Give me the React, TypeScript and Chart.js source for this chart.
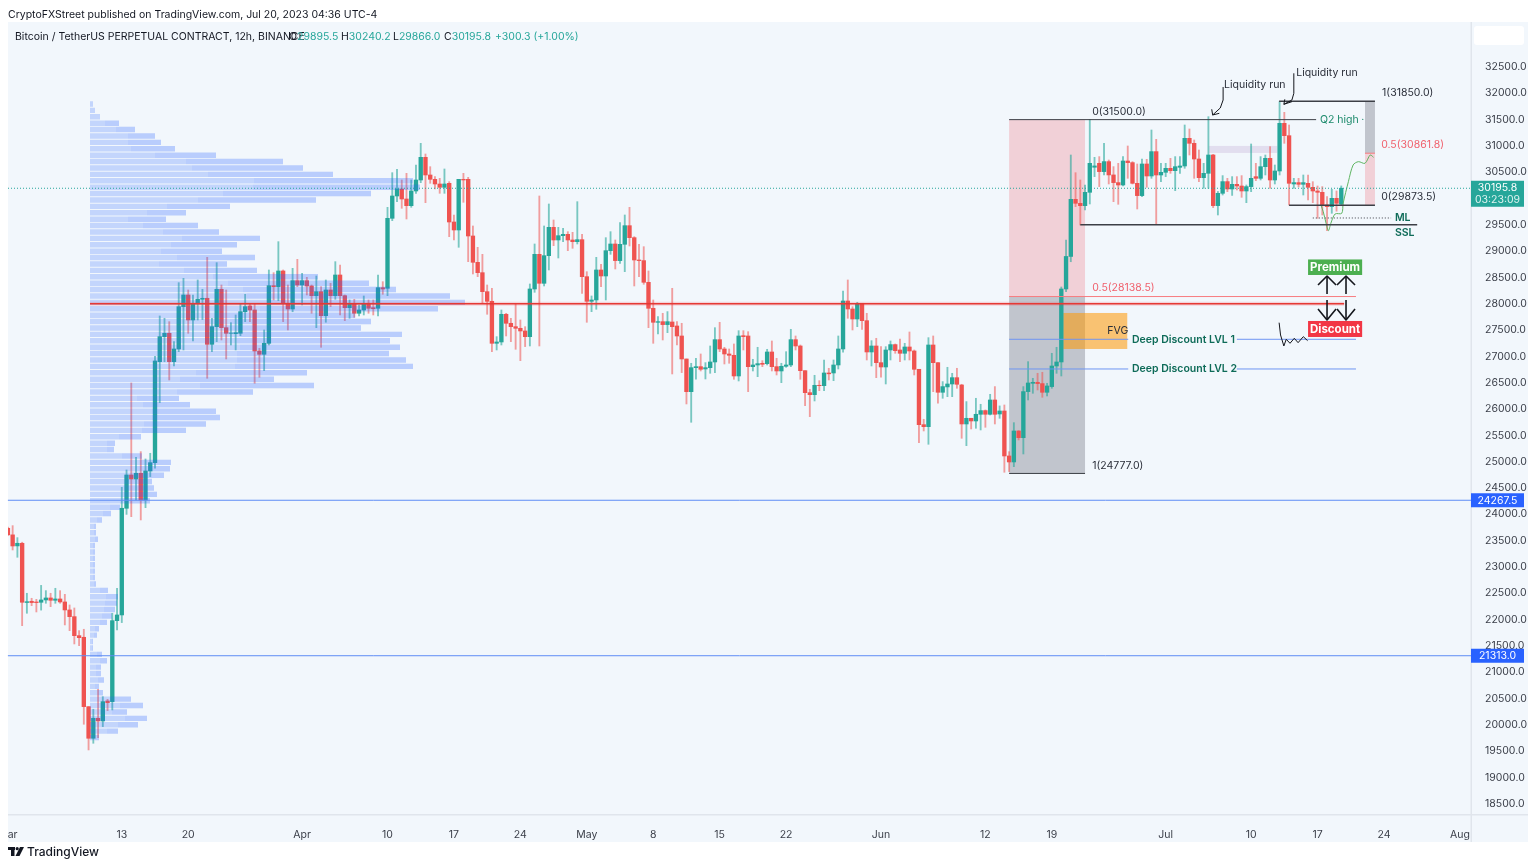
import { useEffect, useRef } from 'react'
import Chart from 'chart.js/auto'

// one row per 12h candle: open, high, low, close
const MARCH = [
  [23735, 23760, 23600, 23610], [23610, 23785, 23323, 23399], [23400, 23557, 23184, 23450], [23450, 23470, 21885, 22329],
  [22325, 22500, 22120, 22340], [22348, 22405, 22265, 22323], [22335, 22385, 22145, 22323], [22329, 22650, 22180, 22373],
  [22373, 22550, 22310, 22411], [22411, 22500, 22246, 22367], [22367, 22595, 22310, 22392], [22392, 22550, 22310, 22335],
  [22335, 22480, 21898, 22183], [22183, 22278, 21790, 22056], [22056, 22221, 21537, 21695], [21695, 21790, 21505, 21657],
  [21664, 21816, 20011, 20346], [20346, 20346, 19523, 19745], [19745, 20296, 19650, 20125], [20125, 20676, 19757, 20074],
  [20074, 20536, 19966, 20441], [20454, 20485, 20270, 20422], [20441, 22120, 20283, 21980], [21980, 22595, 21803, 22088],
  [22088, 24514, 21943, 24115], [24115, 24843, 23999, 24748], [24748, 26496, 23956, 24672], [24672, 25084, 24273, 24780],
  [24780, 25191, 23893, 24273], [24273, 25052, 24127, 24824], [24824, 25160, 24717, 24982], [24982, 27000, 24875, 26914],
  [26901, 27769, 26122, 27376], [27376, 27725, 26900, 27440], [27440, 27661, 26553, 26901], [26901, 27281, 26819, 27142],
  [27142, 28402, 27091, 27946], [27946, 28485, 27123, 28168], [28168, 28263, 27440, 27693], [27693, 28168, 27294, 28010],
  [28010, 28453, 27693, 28086], [28086, 28276, 27700, 28105], [28105, 28884, 26585, 27231], [27231, 27725, 27091, 27566],
  [27566, 28782, 27281, 28276], [28276, 28358, 27313, 27547], [27547, 28263, 26952, 27440], [27440, 27642, 27218, 27445],
  [27433, 27788, 27123, 27452], [27440, 27997, 27395, 27851], [27851, 28181, 27661, 27946], [27959, 27997, 27661, 27883],
  [27883, 27997, 26490, 27104], [27104, 27155, 26604, 27041], [27041, 27503, 26730, 27250], [27250, 28643, 27218, 28345],
  [28345, 28592, 28073, 28326], [28326, 29181, 28060, 28624], [28624, 28643, 27661, 28010], [28010, 28358, 27503, 27902],
  [27902, 28675, 27850, 28440], [28440, 28846, 28326, 28358],
]
const APRIL = [
  [28358, 28580, 27978, 28440], [28440, 28504, 28168, 28339], [28339, 28358, 27820, 28155], [28155, 28529, 27547, 28231],
  [28231, 28326, 27174, 27775], [27775, 28453, 27650, 28263], [28263, 28390, 27946, 28155], [28155, 28801, 28086, 28548],
  [28548, 28738, 27788, 28155], [28155, 28168, 27680, 27927], [27927, 28073, 27725, 27997], [27997, 28086, 27744, 27820],
  [27820, 27978, 27769, 27883], [27883, 28149, 27788, 27997], [28010, 28073, 27820, 27915], [27927, 28073, 27788, 27908],
  [27915, 28548, 27769, 28307], [28307, 28421, 28181, 28282], [28295, 29834, 28155, 29625], [29625, 30492, 29580, 30049],
  [30049, 30556, 29941, 30182], [30182, 30353, 29815, 29992], [29992, 30480, 29612, 29865], [29865, 30353, 29834, 30144],
  [30144, 30638, 30100, 30353], [30353, 31050, 30302, 30784], [30784, 30847, 29922, 30448], [30448, 30606, 30290, 30366],
  [30366, 30416, 30182, 30277], [30277, 30385, 30100, 30214], [30214, 30562, 30100, 30277], [30290, 30321, 29276, 29555],
  [29555, 29688, 29213, 29403], [29403, 30366, 29074, 30366], [30366, 30480, 29929, 30353], [30366, 30404, 28801, 29289],
  [29289, 29479, 28567, 28789], [28789, 29074, 28516, 28592], [28592, 28941, 28010, 28231], [28231, 28358, 27801, 28048],
  [28048, 28295, 27091, 27250], [27250, 27376, 27123, 27275], [27275, 27883, 27218, 27801], [27801, 27820, 27389, 27630],
  [27630, 27725, 27281, 27566], [27566, 28010, 27136, 27535], [27535, 27693, 26920, 27484], [27484, 27566, 27187, 27376],
  [27376, 28377, 27199, 28282], [28282, 29137, 28219, 28941], [28941, 30049, 27199, 28390], [28390, 29479, 28339, 28915],
  [28915, 29897, 28643, 29454], [29454, 29593, 29105, 29213], [29213, 29454, 28871, 29295], [29295, 29435, 29181, 29320],
  [29320, 29371, 29010, 29213], [29213, 29359, 29055, 29181], [29181, 29941, 29137, 29219], [29219, 29321, 28200, 28516],
]
const MAY = [
  [28516, 28611, 27649, 28048], [28048, 28149, 27851, 28073], [28073, 28884, 27896, 28643], [28643, 28750, 28326, 28529],
  [28529, 29257, 28073, 29010], [29010, 29371, 28941, 29137], [29137, 29213, 28662, 28821], [28821, 29543, 28770, 29131],
  [29131, 29688, 28611, 29485], [29485, 29834, 29099, 29257], [29257, 29276, 28339, 28833], [28833, 29131, 28516, 28821],
  [28821, 29086, 28371, 28409], [28409, 28624, 27547, 27915], [27915, 28073, 27250, 27649], [27649, 27757, 27427, 27661],
  [27661, 27820, 27313, 27605], [27605, 27852, 27452, 27661], [27655, 28295, 26667, 27566], [27579, 27661, 27218, 27389],
  [27389, 27630, 26693, 26952], [26952, 26952, 26097, 26331], [26331, 26870, 25749, 26787], [26787, 26965, 26566, 26806],
  [26806, 27047, 26724, 26756], [26762, 26882, 26572, 26787], [26787, 27199, 26680, 26895], [26895, 27547, 26692, 27319],
  [27319, 27649, 27091, 27142], [27142, 27174, 26857, 27047], [27047, 27142, 26870, 27022], [27022, 27237, 26566, 26629],
  [26629, 27490, 26534, 27389], [27395, 27490, 27123, 27376], [27389, 27471, 26331, 26806], [26806, 26946, 26724, 26838],
  [26838, 27174, 26616, 26863], [26870, 26920, 26806, 26851], [26863, 27136, 26838, 27085], [27085, 27294, 26724, 26806],
  [26806, 26965, 26648, 26724], [26724, 26870, 26502, 26813], [26813, 27091, 26794, 26838], [26838, 27516, 26806, 27319],
  [27319, 27389, 27123, 27199], [27199, 27218, 26566, 26730], [26730, 26730, 26065, 26312], [26312, 26376, 25856, 26274],
  [26274, 26642, 26154, 26452], [26452, 26540, 26350, 26445], [26445, 26933, 26350, 26686], [26686, 26775, 26553, 26670],
  [26686, 26933, 26540, 26838], [26838, 27389, 26762, 27142], [27142, 28244, 27079, 28054], [28054, 28453, 27725, 27902],
  [27902, 27946, 27503, 27712], [27712, 28029, 27566, 27997], [28010, 28010, 27516, 27680], [27680, 27820, 26933, 27085],
  [27085, 27300, 26819, 27199], [27199, 27345, 26597, 26882],
]
const JUNE = [
  [26882, 27186, 26604, 26800], [26800, 27186, 26477, 27123], [27123, 27294, 26933, 27225], [27225, 27237, 27060, 27110],
  [27123, 27332, 26901, 27060], [27060, 27250, 26933, 27180], [27180, 27465, 26933, 27104], [27104, 27123, 26648, 26756],
  [26756, 26756, 25362, 25704], [25704, 25806, 25584, 25666], [25666, 27357, 25331, 27218], [27218, 27389, 26331, 26882],
  [26882, 26882, 26110, 26319], [26319, 26522, 26205, 26427], [26421, 26794, 26236, 26477], [26477, 26680, 26236, 26597],
  [26597, 26775, 26395, 26471], [26458, 26471, 25445, 25717], [25717, 26142, 25305, 25825], [25825, 25825, 25622, 25774],
  [25774, 26205, 25635, 25901], [25901, 26091, 25603, 25971], [25971, 25984, 25654, 25901], [25901, 26281, 25888, 26173],
  [26173, 26427, 25717, 25901], [25907, 26060, 25825, 25964], [25964, 26078, 24799, 25109], [25109, 25191, 24812, 24995],
  [24995, 25742, 24906, 25584], [25584, 25590, 25413, 25457], [25457, 26427, 25147, 26332], [26332, 26901, 26173, 26496],
  [26490, 26585, 26300, 26509], [26509, 26680, 26363, 26484], [26484, 26699, 26224, 26319], [26319, 26490, 26249, 26439],
  [26427, 27060, 26395, 26819], [26819, 27174, 26680, 26895], [26895, 28320, 26629, 28282], [28282, 29213, 28230, 28900],
  [28900, 30828, 28800, 29986], [29986, 30492, 29846, 29910], [29910, 30353, 29498, 29865], [29865, 30258, 29783, 30119],
  [30119, 31506, 29897, 30670], [30595, 30784, 30417, 30620], [30670, 30797, 30227, 30512], [30512, 31050, 30449, 30702],
  [30702, 30733, 30277, 30449], [30449, 30607, 29941, 30303], [30303, 30670, 29891, 30258], [30258, 30797, 30239, 30714],
  [30714, 30999, 30385, 30683], [30683, 30702, 30277, 30290], [30290, 30657, 29802, 30056], [30056, 30752, 30036, 30657],
  [30657, 30746, 30214, 30429], [30429, 31303, 30385, 30892], [30892, 31126, 29511, 30448], [30448, 30670, 30321, 30499],
]
const JULY = [
  [30499, 30670, 30417, 30575], [30575, 30765, 30480, 30530], [30530, 30797, 30150, 30606], [30594, 30797, 30480, 30619],
  [30619, 31398, 30575, 31145], [31145, 31322, 30828, 31050], [31050, 31113, 30385, 30752], [30752, 30923, 30321, 30397],
  [30397, 30670, 30195, 30480], [30480, 31556, 30195, 30828], [30828, 30841, 29828, 29866], [29866, 30135, 29688, 30100],
  [30100, 30436, 30068, 30322], [30322, 30385, 30131, 30182], [30182, 30417, 30060, 30271], [30271, 30417, 30163, 30239],
  [30239, 30436, 30024, 30144], [30144, 30258, 29922, 30227], [30227, 31037, 30131, 30385], [30416, 30670, 30340, 30385],
  [30385, 30797, 30353, 30606], [30606, 30828, 30448, 30765], [30765, 30987, 30195, 30353], [30353, 30638, 30277, 30524],
  [30524, 31841, 30448, 31430], [31430, 31639, 31050, 31195], [31195, 31398, 29878, 30290], [30277, 30385, 30195, 30303],
  [30303, 30385, 30220, 30271], [30271, 30448, 30068, 30303], [30290, 30448, 29973, 30214], [30214, 30321, 29922, 30144],
  [30144, 30239, 29625, 30119], [30119, 30227, 29688, 29866], [29878, 30037, 29390, 29847], [29847, 30176, 29720, 30005],
  [30005, 30144, 29760, 29910], [29895.5, 30240.2, 29866, 30195.8],
]
const CANDLES = [...MARCH, ...APRIL, ...MAY, ...JUNE, ...JULY]

// volume profile, top bin to bottom bin
const VP_PRICES = [
  31797, 31675, 31554, 31432, 31311, 31189, 31067, 30946, 30824, 30703, 30581, 30459, 30338, 30216, 30095, 29973, 29851, 29730, 29608, 29487,
  29365, 29243, 29122, 29000, 28879, 28757, 28635, 28514, 28392, 28271, 28149, 28027, 27906, 27784, 27663, 27541, 27419, 27298, 27176, 27055,
  26933, 26811, 26690, 26568, 26447, 26325, 26203, 26082, 25960, 25839, 25717, 25595, 25474, 25352, 25231, 25109, 24987, 24866, 24744, 24623,
  24501, 24379, 24258, 24136, 24015, 23893, 23771, 23650, 23528, 23407, 23285, 23163, 23042, 22920, 22799, 22677, 22555, 22434, 22312, 22191,
  22069, 21947, 21826, 21704, 21583, 21461, 21339, 21218, 21096, 20975, 20853, 20731, 20610, 20488, 20367, 20245, 20123, 20002, 19880, 19759,
]
const VP_TOTAL = [
  3, 5, 10, 29, 45, 65, 71, 85, 126, 193, 213, 243, 323, 330, 281, 226, 140, 96, 76, 108,
  129, 170, 147, 132, 165, 137, 167, 228, 279, 306, 360, 375, 348, 265, 281, 271, 312, 300, 310, 299,
  316, 323, 217, 184, 224, 163, 89, 100, 126, 130, 116, 96, 51, 25, 24, 52, 81, 80, 74, 62,
  64, 67, 60, 30, 21, 12, 6, 6, 8, 5, 5, 5, 5, 5, 5, 6, 18, 28, 27, 25,
  22, 17, 9, 7, 3, 3, 12, 17, 11, 11, 14, 9, 13, 41, 53, 37, 57, 48, 28, 9,
]
const VP_UP = [
  3, 5, 10, 15, 26, 38, 38, 41, 65, 96, 102, 118, 164, 163, 133, 108, 77, 57, 38, 53,
  73, 92, 81, 71, 87, 69, 94, 123, 138, 153, 157, 180, 170, 130, 140, 135, 150, 147, 150, 147,
  147, 145, 106, 90, 110, 87, 47, 53, 62, 62, 54, 52, 29, 17, 17, 32, 50, 45, 40, 38,
  38, 40, 40, 20, 13, 7, 4, 4, 5, 3, 3, 3, 3, 3, 3, 4, 10, 16, 15, 14,
  12, 10, 5, 4, 2, 2, 7, 10, 6, 6, 8, 5, 8, 24, 30, 22, 35, 28, 17, 5,
]

// hand drawn projection (candle index, price)
const PATH_X = [276.7, 277.2, 277.8, 278.3, 278.8, 279.7, 281.1, 281.4, 282.5, 283.5, 284.6, 286, 287.1, 287.8]
const PATH_Y = [29878, 29751, 29530, 29390, 29530, 29707, 29720, 29910, 30321, 30638, 30701, 30670, 30828, 30784]

const Y_TICKS = [18500, 19000, 19500, 20000, 20500, 21000, 21500, 22000, 22500, 23000, 23500, 24000, 24500, 25000, 25500, 26000, 26500, 27000, 27500, 28000, 28500, 29000, 29500, 30500, 31000, 31500, 32000, 32500]
const X_TICK_POS = [0, 24, 38, 62, 80, 94, 108, 122, 136, 150, 164, 184, 206, 220, 244, 262, 276, 290, 306]
const X_TICK_TEXT = ['Mar', '13', '20', 'Apr', '10', '17', '24', 'May', '8', '15', '22', 'Jun', '12', '19', 'Jul', '10', '17', '24', 'Aug']

const UP = '#26a69a'
const DOWN = '#ef5350'
const PANEL = '#f2f7fc'
const GREEN_TEXT = '#0e6b58'
const FONT = 'Inter, "Liberation Sans", sans-serif'

// x in candles, y in price
const ZONES = [
  { x0: 211, x1: 227, p0: 31500, p1: 28138.5, color: 'rgba(242,54,69,0.2)' },
  { x0: 211, x1: 227, p0: 28138.5, p1: 24777, color: 'rgba(120,123,134,0.4)' },
  { x0: 222.4, x1: 235.9, p0: 27826, p1: 27142, color: 'rgba(255,152,0,0.55)' },
  { x0: 253.1, x1: 267.5, p0: 31000, p1: 30867, color: '#e2deef' },
  { x0: 286, x1: 288.1, p0: 31850, p1: 30861.8, color: 'rgba(120,123,134,0.4)' },
  { x0: 286, x1: 288.1, p0: 30861.8, p1: 29873.5, color: 'rgba(242,54,69,0.2)' },
]
const LEVELS = [
  { x0: 211, x1: 275.7, p: 31500, color: '#3c3f46', w: 1 },
  { x0: 211, x1: 284.1, p: 28138.5, color: '#f77c80', w: 1 },
  { x0: 211, x1: 227, p: 24777, color: '#3c3f46', w: 1 },
  { x0: 211, x1: 236.1, p: 27326, color: '#6f95f2', w: 1 },
  { x0: 259, x1: 284.1, p: 27326, color: '#6f95f2', w: 1 },
  { x0: 211, x1: 236.1, p: 26762, color: '#6f95f2', w: 1 },
  { x0: 259, x1: 284.1, p: 26762, color: '#6f95f2', w: 1 },
  { x0: 17.3, x1: 281.6, p: 28000, color: 'rgba(242,54,69,0.18)', w: 4 },
  { x0: 17.3, x1: 281.6, p: 28000, color: '#e53935', w: 1.5 },
  { x0: 267.9, x1: 288.1, p: 31850, color: '#3c3f46', w: 1.5 },
  { x0: 270, x1: 288.1, p: 29873.5, color: '#3c3f46', w: 1.5 },
  { x0: 286, x1: 288.1, p: 30861.8, color: '#f77c80', w: 1 },
  { x0: 226, x1: 297, p: 29504, color: '#3c3f46', w: 1.5 },
  { x0: 0, x1: 308.4, p: 24267.5, color: '#5f8df5', w: 1 },
  { x0: 0, x1: 308.4, p: 21313, color: '#5f8df5', w: 1 },
]
const LABELS = [
  { text: '0(31500.0)', x: 228.5, p: 31645, color: '#2a2e39' },
  { text: '0.5(28138.5)', x: 228.5, p: 28301, color: '#f0616d' },
  { text: '1(24777.0)', x: 228.5, p: 24919, color: '#2a2e39' },
  { text: 'FVG', x: 231.7, p: 27484, color: '#2a2e39' },
  { text: 'Deep Discount LVL 1', x: 236.9, p: 27322, color: GREEN_TEXT, bold: true },
  { text: 'Deep Discount LVL 2', x: 236.9, p: 26762, color: GREEN_TEXT, bold: true },
  { text: 'Q2 high', x: 276.5, p: 31500, color: '#1b8a6b' },
  { text: '·', x: 285.2, p: 31500, color: '#1b8a6b' },
  { text: 'Liquidity run', x: 256.3, p: 32158, color: '#2a2e39' },
  { text: 'Liquidity run', x: 271.5, p: 32386, color: '#2a2e39' },
  { text: '1(31850.0)', x: 289.6, p: 32006, color: '#2a2e39' },
  { text: '0.5(30861.8)', x: 289.4, p: 31018, color: '#f0616d' },
  { text: '0(29873.5)', x: 289.4, p: 30030, color: '#2a2e39' },
  { text: 'ML', x: 292.3, p: 29631, color: GREEN_TEXT, bold: true },
  { text: 'SSL', x: 292.3, p: 29346, color: GREEN_TEXT, bold: true },
]
const STROKES = [
  // liquidity run arrows
  { w: 1, pts: [[256.1, 32120], [256.1, 31873], [255.5, 31721], [253.9, 31588]] },
  { w: 1, pts: [[255.3, 31620], [253.9, 31588], [253.7, 31696]] },
  { w: 1, pts: [[271, 32380], [271, 32000], [270.6, 31873], [268.9, 31791]] },
  { w: 1, pts: [[270.6, 31841], [268.9, 31791], [269.1, 31886]] },
  // premium / discount arrows
  { w: 1.6, pts: [[278, 28187], [278, 28529]] },
  { w: 1.6, pts: [[276.1, 28358], [278, 28529], [279.9, 28358]] },
  { w: 1.6, pts: [[282, 28187], [282, 28529]] },
  { w: 1.6, pts: [[280.1, 28358], [282, 28529], [283.9, 28358]] },
  { w: 1.6, pts: [[278, 28073], [278, 27693]] },
  { w: 1.6, pts: [[276.1, 27902], [278, 27693], [279.9, 27902]] },
  { w: 1.6, pts: [[282, 28073], [282, 27693]] },
  { w: 1.6, pts: [[280.1, 27902], [282, 27693], [283.9, 27902]] },
  // scribble under discount
  { w: 1, pts: [[267.9, 27642], [268.2, 27408], [268.9, 27199], [269.4, 27326], [270.2, 27250], [271.1, 27345], [271.9, 27262], [273, 27376], [273.9, 27300]] },
]
const BADGES = [
  { text: 'Premium', p0: 28843, p1: 28548, color: '#4caf50' },
  { text: 'Discount', p0: 27674, p1: 27370, color: '#f23645' },
]
const PRICE_TAGS = [
  { text: '24267.5', p: 24267.5 },
  { text: '21313.0', p: 21313 },
]

const vpPoints = (from: number[], to: number[]) =>
  VP_PRICES.flatMap((p, i) => [{ x: from[i], y: p }, { x: to[i], y: p }, { x: NaN, y: NaN }])

const overlay = {
  id: 'overlay',
  beforeDraw(chart: Chart) {
    const { ctx } = chart
    ctx.save()
    ctx.fillStyle = '#ffffff'
    ctx.fillRect(0, 0, 1536, 866)
    ctx.fillStyle = PANEL
    ctx.fillRect(8, 22, 1520, 820)
    ctx.fillStyle = '#e0e5ec'
    ctx.fillRect(1470.5, 22, 1.5, 820)
    ctx.fillRect(8, 814, 1520, 1.5)
    ctx.restore()
  },
  beforeDatasetsDraw(chart: Chart) {
    const { ctx, scales } = chart
    const X = (v: number) => scales.x.getPixelForValue(v)
    const Y = (v: number) => scales.y.getPixelForValue(v)
    ctx.save()
    for (const z of ZONES) {
      ctx.fillStyle = z.color
      ctx.fillRect(X(z.x0), Y(z.p0), X(z.x1) - X(z.x0), Y(z.p1) - Y(z.p0))
    }
    ctx.restore()
  },
  afterDatasetsDraw(chart: Chart) {
    const { ctx, scales, chartArea } = chart
    const X = (v: number) => scales.x.getPixelForValue(v)
    const Y = (v: number) => scales.y.getPixelForValue(v)
    ctx.save()

    // current price
    ctx.strokeStyle = UP
    ctx.lineWidth = 1
    ctx.setLineDash([1, 2])
    ctx.beginPath()
    ctx.moveTo(chartArea.left, Y(30195.8))
    ctx.lineTo(chartArea.right, Y(30195.8))
    ctx.stroke()
    ctx.beginPath()
    ctx.strokeStyle = '#3c3f46'
    ctx.moveTo(X(275), Y(29631))
    ctx.lineTo(X(291.5), Y(29631))
    ctx.stroke()
    ctx.setLineDash([])

    for (const l of LEVELS) {
      ctx.strokeStyle = l.color
      ctx.lineWidth = l.w
      ctx.beginPath()
      ctx.moveTo(X(l.x0), Y(l.p))
      ctx.lineTo(X(l.x1), Y(l.p))
      ctx.stroke()
    }

    ctx.strokeStyle = '#14161c'
    ctx.lineJoin = 'round'
    for (const s of STROKES) {
      ctx.lineWidth = s.w
      ctx.beginPath()
      s.pts.forEach(([a, b], i) => (i ? ctx.lineTo(X(a), Y(b)) : ctx.moveTo(X(a), Y(b))))
      ctx.stroke()
    }

    ctx.textBaseline = 'middle'
    ctx.textAlign = 'left'
    for (const t of LABELS) {
      ctx.font = `${t.bold ? 600 : 400} 10.5px ${FONT}`
      ctx.fillStyle = t.color
      ctx.fillText(t.text, X(t.x), Y(t.p))
    }

    ctx.textAlign = 'center'
    ctx.font = `700 11.5px ${FONT}`
    for (const b of BADGES) {
      ctx.fillStyle = b.color
      ctx.fillRect(X(274), Y(b.p0), X(285.4) - X(274), Y(b.p1) - Y(b.p0))
      ctx.fillStyle = '#ffffff'
      ctx.fillText(b.text, (X(274) + X(285.4)) / 2, (Y(b.p0) + Y(b.p1)) / 2 + 0.5)
    }

    // right scale tags
    ctx.font = `400 10.5px ${FONT}`
    for (const t of PRICE_TAGS) {
      ctx.fillStyle = '#2962ff'
      ctx.fillRect(1471, Y(t.p) - 7, 53, 14)
      ctx.fillStyle = '#ffffff'
      ctx.fillText(t.text, 1497.5, Y(t.p) + 0.5)
    }
    ctx.fillStyle = UP
    ctx.fillRect(1471, Y(30195.8) - 7.5, 53, 26)
    ctx.fillStyle = '#ffffff'
    ctx.fillText('30195.8', 1497.5, Y(30195.8) - 0.5)
    ctx.fillStyle = '#dff3f0'
    ctx.fillText('03:23:09', 1497.5, Y(30195.8) + 12)

    // empty box in the corner of the scale
    ctx.fillStyle = '#ffffff'
    ctx.beginPath()
    ctx.roundRect(1474, 26, 50, 19, 3)
    ctx.fill()
    ctx.restore()
  },
  afterDraw(chart: Chart) {
    const { ctx } = chart
    // the first month label is cut by the panel edge
    ctx.save()
    ctx.fillStyle = '#ffffff'
    ctx.fillRect(0, 816, 8, 26)
    // logo
    ctx.fillStyle = '#131722'
    ctx.fillRect(8, 847, 7, 3)
    ctx.fillRect(11, 847, 3.5, 9)
    ctx.beginPath()
    ctx.arc(17.2, 848.7, 1.6, 0, Math.PI * 2)
    ctx.fill()
    ctx.beginPath()
    ctx.moveTo(20, 847)
    ctx.lineTo(24, 847)
    ctx.lineTo(19.5, 856)
    ctx.lineTo(15.5, 856)
    ctx.fill()
    ctx.restore()
  },
}

export default function App() {
  const canvasRef = useRef<HTMLCanvasElement>(null)

  useEffect(() => {
    const canvas = canvasRef.current
    if (!canvas) return
    const candleColor = CANDLES.map(([o, , , c]) => (c >= o ? UP : DOWN))
    const wickColor = CANDLES.map(([o, , , c]) => (c >= o ? 'rgba(38,166,154,0.6)' : 'rgba(239,83,80,0.55)'))
    const config = {
      type: 'bar',
      data: {
        datasets: [
          {
            type: 'line',
            data: PATH_X.map((x, i) => ({ x, y: PATH_Y[i] })),
            borderColor: '#5fb562',
            borderWidth: 1,
            tension: 0.3,
            pointRadius: 0,
            order: 0,
          },
          {
            type: 'line',
            xAxisID: 'xv',
            data: vpPoints(VP_TOTAL.map(() => 0), VP_UP),
            borderColor: 'rgba(41,98,255,0.23)',
            borderWidth: 5.4,
            borderCapStyle: 'butt',
            pointRadius: 0,
            spanGaps: false,
            order: 1,
          },
          {
            type: 'line',
            xAxisID: 'xv',
            data: vpPoints(VP_UP, VP_TOTAL),
            borderColor: 'rgba(41,98,255,0.28)',
            borderWidth: 5.4,
            borderCapStyle: 'butt',
            pointRadius: 0,
            spanGaps: false,
            order: 1,
          },
          {
            data: CANDLES.map(([o, , , c], i) => ({ x: i, y: [o, c] })),
            backgroundColor: candleColor,
            barThickness: 3.7,
            grouped: false,
            order: 2,
          },
          {
            data: CANDLES.map(([, h, l], i) => ({ x: i, y: [l, h] })),
            backgroundColor: wickColor,
            barThickness: 1.2,
            grouped: false,
            order: 3,
          },
        ],
      },
      options: {
        responsive: false,
        animation: false,
        devicePixelRatio: 1,
        layout: { padding: { left: 8, top: 22, right: 8, bottom: 24 } },
        plugins: { legend: { display: false }, tooltip: { enabled: false } },
        scales: {
          x: {
            type: 'linear',
            min: 0.02,
            max: 308.34,
            offset: false,
            grid: { display: false },
            border: { display: false },
            afterBuildTicks: (s: any) => {
              s.ticks = X_TICK_POS.map((value) => ({ value }))
            },
            afterFit: (s: any) => {
              s.height = 28
              s.paddingLeft = 0
              s.paddingRight = 0
            },
            ticks: {
              autoSkip: false,
              maxRotation: 0,
              padding: 7,
              color: '#3a3e48',
              font: { family: FONT, size: 10.5 },
              callback: (v: number) => X_TICK_TEXT[X_TICK_POS.indexOf(v)] ?? '',
            },
          },
          xv: { type: 'linear', display: false, min: -82, max: 1381, offset: false },
          y: {
            type: 'linear',
            position: 'right',
            min: 18306,
            max: 33355,
            grid: { display: false },
            border: { display: false },
            afterBuildTicks: (s: any) => {
              s.ticks = Y_TICKS.map((value) => ({ value }))
            },
            afterFit: (s: any) => {
              s.width = 57
              s.paddingTop = 0
              s.paddingBottom = 0
            },
            ticks: {
              padding: 6,
              color: '#3a3e48',
              font: { family: FONT, size: 10.5 },
              callback: (v: number) => v.toFixed(1),
            },
          },
        },
      },
      plugins: [overlay],
    } as any
    const chart = new Chart(canvas, config)
    return () => chart.destroy()
  }, [])

  const txt = { position: 'absolute', whiteSpace: 'nowrap', fontFamily: FONT } as const
  const teal = { color: '#26a69a' }
  return (
    <div style={{ position: 'absolute', left: 0, top: 0, width: 1536, height: 866, overflow: 'hidden' }}>
      <canvas ref={canvasRef} width={1536} height={866} style={{ display: 'block' }} />
      <div style={{ ...txt, left: 8, top: 8, fontSize: 10.5, color: '#131722' }}>
        CryptoFXStreet published on TradingView.com, Jul 20, 2023 04:36 UTC-4
      </div>
      <div style={{ ...txt, left: 15, top: 30, fontSize: 10.5, color: '#131722' }}>
        Bitcoin / TetherUS PERPETUAL CONTRACT, 12h, BINANCE
      </div>
      <div style={{ ...txt, left: 289, top: 30, fontSize: 10.5, color: '#131722' }}>O<span style={teal}>29895.5</span></div>
      <div style={{ ...txt, left: 341, top: 30, fontSize: 10.5, color: '#131722' }}>H<span style={teal}>30240.2</span></div>
      <div style={{ ...txt, left: 393, top: 30, fontSize: 10.5, color: '#131722' }}>L<span style={teal}>29866.0</span></div>
      <div style={{ ...txt, left: 444, top: 30, fontSize: 10.5, color: '#131722' }}>C<span style={teal}>30195.8</span></div>
      <div style={{ ...txt, left: 495, top: 30, fontSize: 10.5, ...teal }}>+300.3 (+1.00%)</div>
      <div style={{ ...txt, left: 27, top: 844, fontSize: 12, fontWeight: 500, color: '#131722' }}>TradingView</div>
    </div>
  )
}
